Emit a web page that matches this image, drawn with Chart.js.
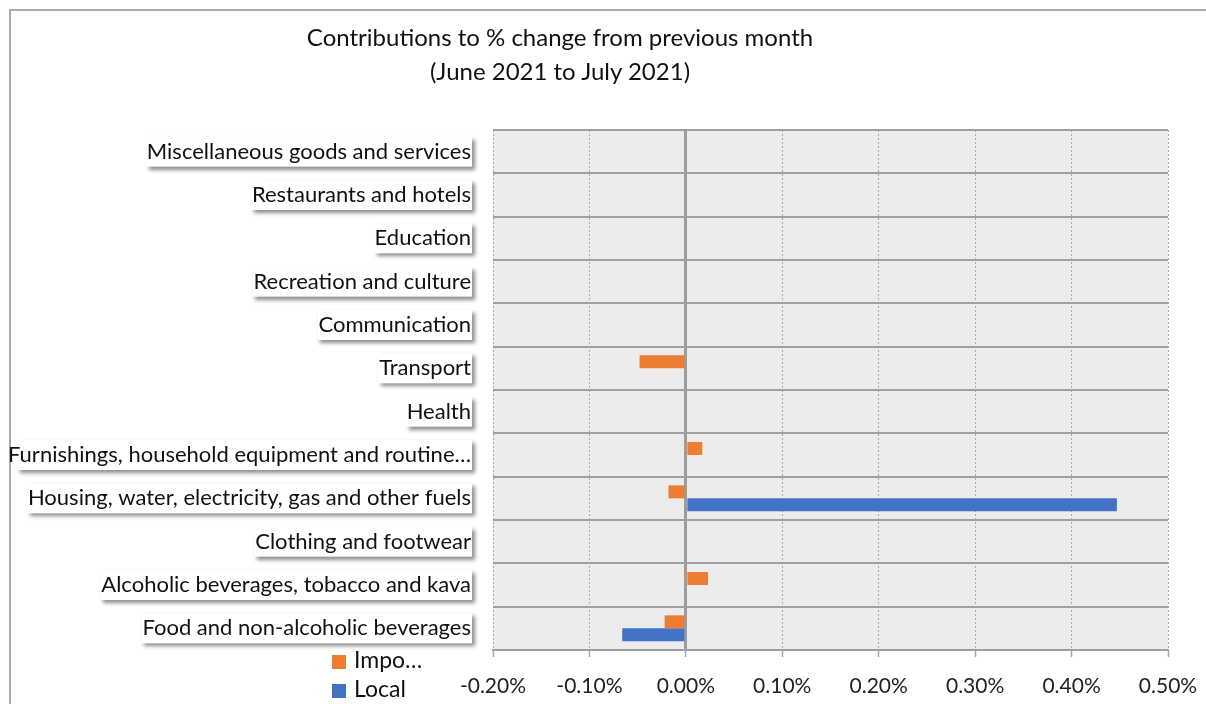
<!DOCTYPE html>
<html lang="en">
<head>
    <meta charset="UTF-8">
    <script src="https://cdn.jsdelivr.net/npm/chart.js"></script>
    <title>Contributions to % change</title>
    <style>
        body {
            margin: 0;
            background-color: #fff;
            font-family: Lato, sans-serif;
        }

        #wrap {
            position: relative;
            width: 1206px;
            height: 704px;
        }

        #frame {
            position: absolute;
            left: 9px;
            top: 9px;
            right: 0;
            bottom: 0;
            border-left: 2px solid #aaa;
            border-top: 2px solid #aaa;
        }

        #title {
            position: absolute;
            left: 260px;
            top: 20px;
            width: 600px;
            text-align: center;
            font-size: 24px;
            line-height: 34px;
            color: #111;
        }

        .leg {
            position: absolute;
            left: 332px;
            font-size: 23px;
            line-height: 28px;
            color: #111;
        }

        .leg span {
            display: inline-block;
            width: 14px;
            height: 14px;
            margin-right: 8px;
            vertical-align: -1px;
        }

        canvas {
            position: absolute;
            left: 0;
            top: 0;
        }
    </style>
</head>
<body>
    <div id="wrap">
        <div id="frame"></div>
        <canvas id="cpiChart" width="1206" height="704"></canvas>
        <div id="title">Contributions to % change from previous month<br>(June 2021 to July 2021)</div>
        <div class="leg" style="top: 645px;"><span style="background:#ED7D31"></span>Impo…</div>
        <div class="leg" style="top: 674px;"><span style="background:#4472C4"></span>Local</div>
    </div>

    <script>
        // categories, top to bottom as in the picture
        const categories = [
            'Miscellaneous goods and services',
            'Restaurants and hotels',
            'Education',
            'Recreation and culture',
            'Communication',
            'Transport',
            'Health',
            'Furnishings, household equipment and routine…',
            'Housing, water, electricity, gas and other fuels',
            'Clothing and footwear',
            'Alcoholic beverages, tobacco and kava',
            'Food and non-alcoholic beverages'
        ];

        // contributions in percentage points
        const imported = [0, 0, 0, 0, 0, -0.048, 0, 0.017, -0.018, 0, 0.023, -0.022];
        const local = [0, 0, 0, 0, 0, 0, 0, 0, 0.447, 0, 0, -0.066];

        const xTicks = [-0.2, -0.1, 0, 0.1, 0.2, 0.3, 0.4, 0.5];

        const labelFont = { family: 'Lato', size: 22 };

        // grey plot background and white shadowed boxes behind category labels
        const backdrop = {
            id: 'backdrop',
            beforeDraw(chart) {
                const ctx = chart.ctx;
                const area = chart.chartArea;
                ctx.save();
                ctx.fillStyle = '#ececec';
                ctx.fillRect(area.left, area.top, area.right - area.left, area.bottom - area.top);

                const yScale = chart.scales.y;
                ctx.font = labelFont.size + 'px ' + labelFont.family;
                yScale.ticks.forEach((t, i) => {
                    const w = Math.min(ctx.measureText(categories[i]).width, area.left - 40);
                    const yc = yScale.getPixelForTick(i);
                    const right = area.left - 21;
                    ctx.shadowColor = 'rgba(0,0,0,0.45)';
                    ctx.shadowBlur = 4;
                    ctx.shadowOffsetX = 3;
                    ctx.shadowOffsetY = 3;
                    ctx.fillStyle = '#fff';
                    ctx.fillRect(right - w - 2, yc - 15, w + 2, 30);
                });
                ctx.restore();
            }
        };

        const ctx = document.getElementById('cpiChart').getContext('2d');
        const myChart = new Chart(ctx, {
            type: 'bar',
            data: {
                labels: categories,
                datasets: [
                    {
                        label: 'Imported',
                        data: imported,
                        backgroundColor: '#ED7D31'
                    },
                    {
                        label: 'Local',
                        data: local,
                        backgroundColor: '#4472C4'
                    }
                ]
            },
            options: {
                indexAxis: 'y',
                responsive: false,
                animation: false,
                layout: {
                    padding: { left: 0, top: 130, right: 38, bottom: 0 }
                },
                datasets: {
                    bar: {
                        categoryPercentage: 0.6,
                        barPercentage: 1
                    }
                },
                plugins: {
                    legend: { display: false },
                    title: { display: false },
                    tooltip: { enabled: false }
                },
                scales: {
                    x: {
                        min: -0.2,
                        max: 0.5,
                        afterBuildTicks: (scale) => {
                            scale.ticks = xTicks.map(v => ({ value: v }));
                        },
                        afterFit: (scale) => {
                            scale.height = 54;
                        },
                        grid: {
                            color: (c) => (c.tick && Math.abs(c.tick.value) < 1e-9) ? '#9c9c9c' : '#a8a8a8',
                            lineWidth: (c) => (c.tick && Math.abs(c.tick.value) < 1e-9) ? 3 : 1,
                            drawTicks: true,
                            tickLength: 7,
                            tickColor: '#a8a8a8',
                            tickWidth: 1.5
                        },
                        border: {
                            display: true,
                            color: '#a0a0a0',
                            width: 2,
                            dash: (c) => (c.tick && Math.abs(c.tick.value) < 1e-9) ? [] : [2, 2]
                        },
                        ticks: {
                            // no tick padding (it widens the side padding); the tall line height pushes labels down instead
                            padding: 0,
                            color: '#222',
                            font: { family: 'Lato', size: 21, lineHeight: '58px' },
                            callback: (v) => Number(v).toFixed(2) + '%'
                        }
                    },
                    y: {
                        afterFit: (scale) => {
                            scale.width = 493;
                        },
                        grid: {
                            offset: true,
                            color: '#a0a0a0',
                            lineWidth: 2,
                            drawTicks: false
                        },
                        border: { display: false },
                        ticks: {
                            padding: 22,
                            color: '#111',
                            font: labelFont
                        }
                    }
                }
            },
            plugins: [backdrop]
        });
    </script>
</body>
</html>
